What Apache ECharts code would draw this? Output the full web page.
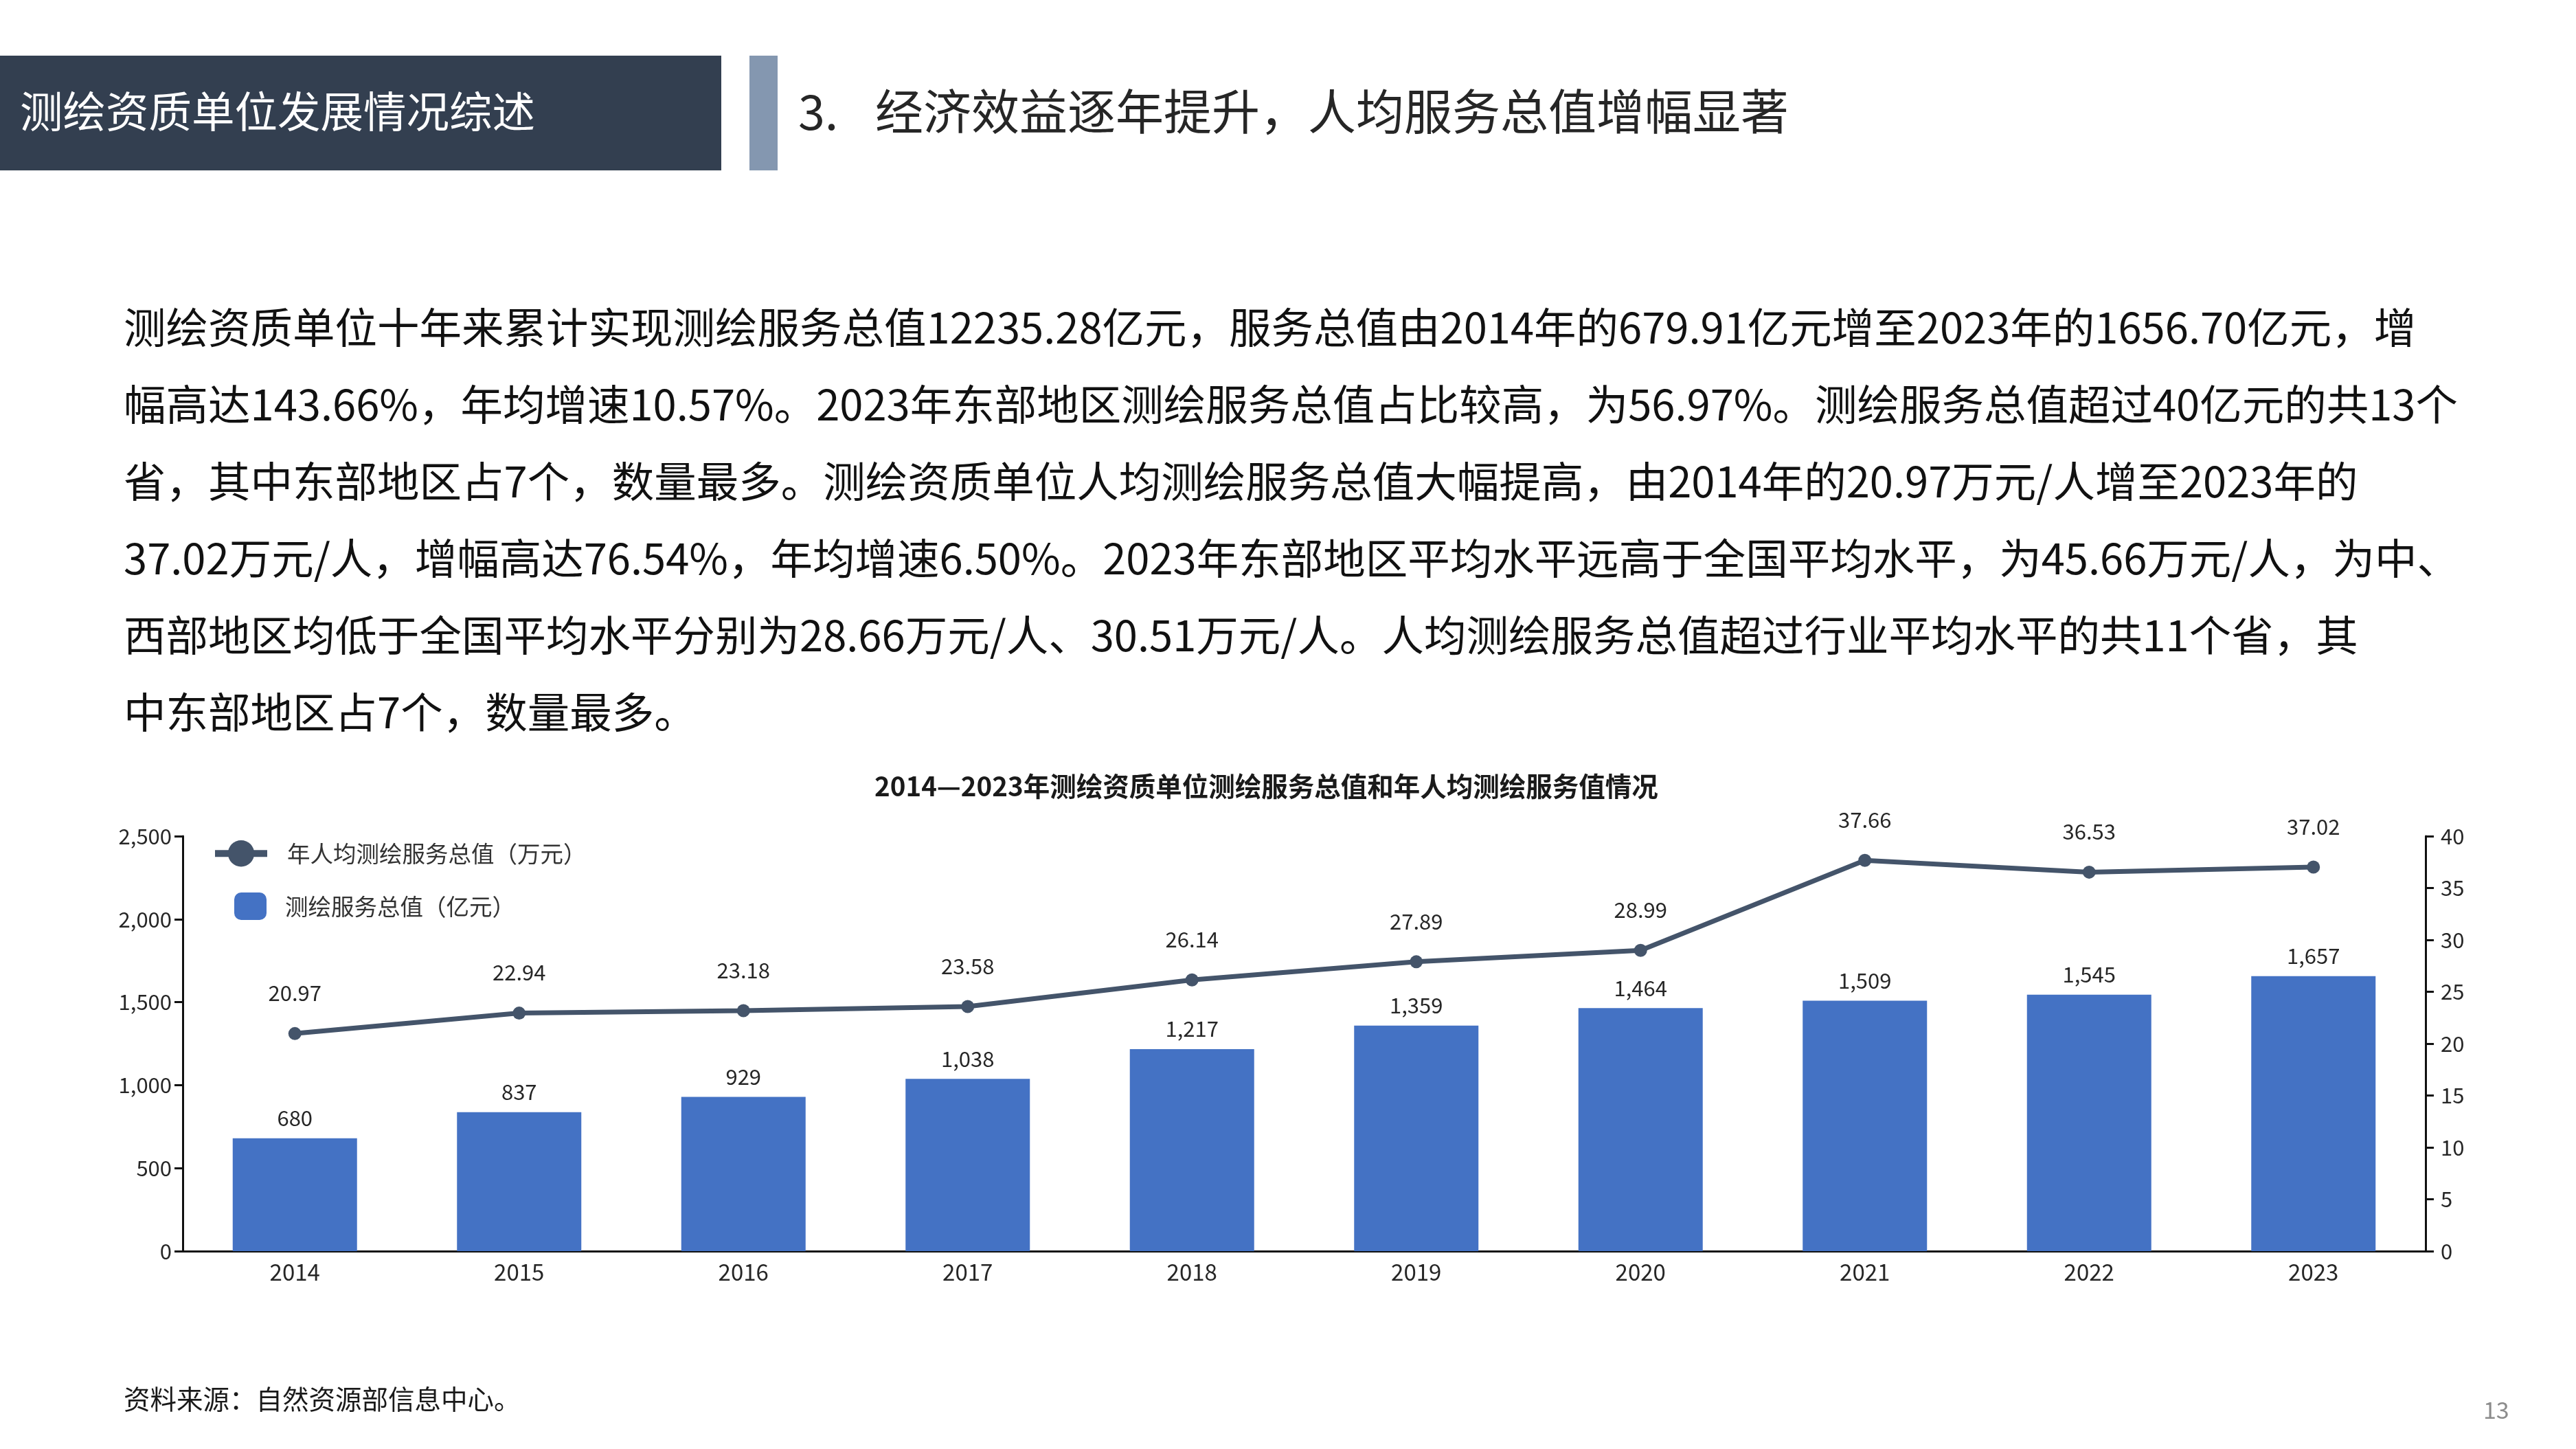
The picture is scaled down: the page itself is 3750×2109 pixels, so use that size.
<!DOCTYPE html>
<html>
<head>
<meta charset="utf-8">
<script src="https://cdn.jsdelivr.net/npm/echarts@6/dist/echarts.min.js"></script>
<style>
html,body{margin:0;padding:0;background:#fff;}
#c{width:3750px;height:2109px;}
</style>
</head>
<body>
<div id="c"></div>
<script>
var years = ['2014','2015','2016','2017','2018','2019','2020','2021','2022','2023'];
var serviceTotal = [680, 837, 929, 1038, 1217, 1359, 1464, 1509, 1545, 1657];
var perCapita = [20.97, 22.94, 23.18, 23.58, 26.14, 27.89, 28.99, 37.66, 36.53, 37.02];
var barName = '测绘服务总值（亿元）';
var lineName = '年人均测绘服务总值（万元）';
var chartTitle = '2014—2023年测绘资质单位测绘服务总值和年人均测绘服务值情况';
var headerText = '测绘资质单位发展情况综述';
var sectionNo = '3.';
var sectionTitle = '经济效益逐年提升，人均服务总值增幅显著';
var paragraphLines = [
 '测绘资质单位十年来累计实现测绘服务总值12235.28亿元，服务总值由2014年的679.91亿元增至2023年的1656.70亿元，增',
 '幅高达143.66%，年均增速10.57%。2023年东部地区测绘服务总值占比较高，为56.97%。测绘服务总值超过40亿元的共13个',
 '省，其中东部地区占7个，数量最多。测绘资质单位人均测绘服务总值大幅提高，由2014年的20.97万元/人增至2023年的',
 '37.02万元/人，增幅高达76.54%，年均增速6.50%。2023年东部地区平均水平远高于全国平均水平，为45.66万元/人，为中、',
 '西部地区均低于全国平均水平分别为28.66万元/人、30.51万元/人。人均测绘服务总值超过行业平均水平的共11个省，其',
 '中东部地区占7个，数量最多。'
];
var sourceText = '资料来源：自然资源部信息中心。';
var pageNo = '13';

var FONT = '"Noto Sans CJK SC", "Noto Sans", sans-serif';
function commas(v){ return String(v).replace(/\B(?=(\d{3})+(?!\d))/g, ','); }

var lineYs = [477, 589, 701, 813, 925, 1037];
var graphics = [
  {type:'rect', shape:{x:0,y:81,width:1050,height:167}, style:{fill:'#333F50'}},
  {type:'rect', shape:{x:1091,y:81,width:41,height:167}, style:{fill:'#8497B0'}},
  {type:'text', x:29, y:162, style:{text:headerText, fill:'#ffffff', fontSize:62.5, fontFamily:FONT, verticalAlign:'middle'}},
  {type:'text', x:1162, y:162, style:{text:sectionNo, fill:'#262626', fontSize:70, fontFamily:FONT, verticalAlign:'middle'}},
  {type:'text', x:1274, y:162, style:{text:sectionTitle, fill:'#262626', fontSize:70, fontFamily:FONT, verticalAlign:'middle'}},
  {type:'text', x:180, y:2036, style:{text:sourceText, fill:'#1a1a1a', fontSize:38.5, fontFamily:FONT, verticalAlign:'middle'}},
  {type:'text', x:3615, y:2052, style:{text:pageNo, fill:'#8c8c8c', fontSize:34, fontFamily:FONT, verticalAlign:'middle'}}
];
paragraphLines.forEach(function(t,i){
  graphics.push({type:'text', x:180, y:lineYs[i], style:{text:t, fill:'#111111', fontSize:61.5, fontFamily:FONT, verticalAlign:'middle'}});
});

var chart = echarts.init(document.getElementById('c'), null, {renderer:'canvas'});
chart.setOption({
  backgroundColor:'#ffffff',
  animation:false,
  textStyle:{fontFamily:FONT},
  title:{
    text: chartTitle, left:1268, top:1120,
    textStyle:{fontSize:38.5, fontWeight:'bold', color:'#1a1a1a', fontFamily:FONT}
  },
  legend:[
    {data:[lineName], left:303, top:1218, orient:'vertical', itemWidth:76, itemHeight:48,
     lineStyle:{width:10},
     textStyle:{fontSize:33.5, color:'#333333', padding:[0,0,0,24], fontFamily:FONT}},
    {data:[barName], left:336, top:1294, orient:'vertical', itemWidth:47, itemHeight:40,
     textStyle:{fontSize:33.5, color:'#333333', padding:[0,0,0,22], fontFamily:FONT}}
  ],
  grid:{left:266, right:219, top:1217, bottom:288, containLabel:false},
  xAxis:{
    type:'category', data:years,
    axisLine:{lineStyle:{color:'#111111', width:3}},
    axisTick:{show:false},
    axisLabel:{fontSize:33, color:'#262626', margin:14, fontFamily:FONT}
  },
  yAxis:[
    {type:'value', min:0, max:2500, interval:500,
     axisLine:{show:true, lineStyle:{color:'#111111', width:3}},
     axisTick:{show:true, length:12, lineStyle:{color:'#111111', width:3}},
     splitLine:{show:false},
     axisLabel:{fontSize:31, color:'#262626', margin:16, formatter:function(v){return commas(v);}, fontFamily:FONT}},
    {type:'value', min:0, max:40, interval:5, position:'right',
     axisLine:{show:true, lineStyle:{color:'#111111', width:3}},
     axisTick:{show:true, length:12, lineStyle:{color:'#111111', width:3}},
     splitLine:{show:false},
     axisLabel:{fontSize:31, color:'#262626', margin:22, fontFamily:FONT}}
  ],
  series:[
    {name:lineName, type:'line', yAxisIndex:1, data:perCapita, z:5,
     symbol:'circle', symbolSize:19,
     lineStyle:{color:'#44546A', width:7},
     itemStyle:{color:'#44546A'},
     label:{show:true, position:'top', distance:34, fontSize:31, color:'#262626', fontFamily:FONT,
            formatter:function(p){return p.value.toFixed(2);}}},
    {name:barName, type:'bar', yAxisIndex:0, data:serviceTotal, barWidth:181,
     itemStyle:{color:'#4472C4'},
     label:{show:true, position:'top', distance:14, fontSize:31, color:'#262626', fontFamily:FONT,
            formatter:function(p){return commas(p.value);}}}
  ],
  graphic: graphics
});
</script>
</body>
</html>
